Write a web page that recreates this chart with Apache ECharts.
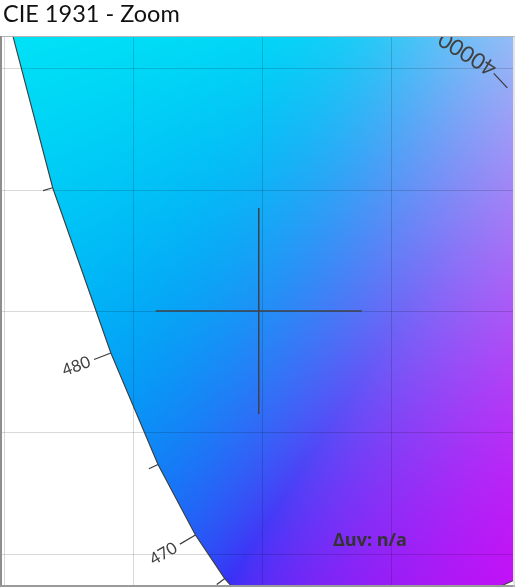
<!DOCTYPE html>
<html>
<head>
<meta charset="utf-8">
<script src="https://cdn.jsdelivr.net/npm/echarts@6/dist/echarts.min.js"></script>
<style>
html,body{margin:0;padding:0;background:#ffffff;}
#chart{width:515px;height:587px;}
</style>
</head>
<body>
<div id="chart"></div>
<script>
// ---- data ----
const chartTitle = 'CIE 1931 - Zoom';
const deltaText = 'Δuv: n/a';
// CIE 1931 2° spectral locus (wavelength nm, chromaticity x, y)
const wavelengths = [380,400,420,430,440,445,450,455,460,465,470,475,480,485,490,495,500,505,510,515,520,530,540,550,560,580,600,620,650,700];
const locusX = [0.17411,0.17334,0.17141,0.16888,0.16441,0.16110,0.15664,0.15099,0.14396,0.13550,0.12412,0.10959,0.09129,0.06871,0.04539,0.02346,0.00817,0.00386,0.01387,0.03885,0.07430,0.15472,0.22962,0.30160,0.37310,0.51249,0.62704,0.69148,0.72599,0.73469];
const locusY = [0.00496,0.00480,0.00510,0.00690,0.01086,0.01379,0.01771,0.02274,0.02970,0.03988,0.05780,0.08684,0.13270,0.20072,0.29498,0.41270,0.53842,0.65482,0.75019,0.81202,0.83380,0.80586,0.75433,0.69231,0.62445,0.48664,0.37249,0.30817,0.27401,0.26531];
// wavelengths that get a tick (labelled every 10 nm)
const tickWavelengths = [450,455,460,465,470,475,480,485,490,495];
const labelWavelengths = [450,460,470,480,490];
// grid lines (chromaticity units)
const gridXValues = [0.05,0.10,0.15,0.20];
const gridYValues = [0.05,0.10,0.15,0.20,0.25];
// zoom window
const xRange = [0.04903, 0.24740];
const yRange = [0.03724, 0.26276];
// target crosshair
const targetX = [0.1487];
const targetY = [0.1500];
// CCT annotation
const cctLabels = ['40000'];
const cctX = [0.2452];
const cctY = [0.2418];

// ---- layout ----
const G = {left:2, top:37, width:511, height:548};
const W = 515, H = 587;

// smooth chromaticity colour field used as the fill pattern
function chromaColor(x, y){
  if (y <= 0.0005) y = 0.0005;
  const X = x / y, Y = 1, Z = (1 - x - y) / y;
  let r = 3.2406*X - 1.5372*Y - 0.4986*Z;
  let g = -0.9689*X + 1.8758*Y + 0.0415*Z;
  let b = 0.0557*X - 0.2040*Y + 1.0570*Z;
  let mx = Math.max(r,g,b) || 1;
  r/=mx; g/=mx; b/=mx;
  const mn = Math.min(r,g,b);
  const k = 0.09;
  const s = k*Math.log(1 + Math.exp(-mn/k));
  r += s; g += s; b += s;
  mx = Math.max(r,g,b);
  r/=mx; g/=mx; b/=mx;
  g = Math.pow(Math.max(g,0), 1.1);
  const br = 0.92;
  const gm = v => { v = Math.max(0, v*br); return v <= 0.0031308 ? 12.92*v : 1.055*Math.pow(v,1/2.4) - 0.055; };
  return [Math.round(255*gm(r)), Math.round(255*gm(g)), Math.round(255*gm(b))];
}
const patCanvas = document.createElement('canvas');
patCanvas.width = W; patCanvas.height = H;
(function(){
  const ctx = patCanvas.getContext('2d');
  const img = ctx.createImageData(W, H);
  for (let py = 0; py < H; py++){
    const yv = yRange[1] - (py + 0.5 - G.top) / G.height * (yRange[1]-yRange[0]);
    for (let px = 0; px < W; px++){
      const xv = xRange[0] + (px + 0.5 - G.left) / G.width * (xRange[1]-xRange[0]);
      const c = chromaColor(xv, yv);
      const i = (py*W + px)*4;
      img.data[i]=c[0]; img.data[i+1]=c[1]; img.data[i+2]=c[2]; img.data[i+3]=255;
    }
  }
  ctx.putImageData(img, 0, 0);
})();

const chart = echarts.init(document.getElementById('chart'), null, {renderer:'canvas'});

function locusPixels(api){
  return wavelengths.map((w,i) => api.coord([locusX[i], locusY[i]]));
}
const LINE = '#3c3c3c';
const LABEL_FONT = 'Lato, "Open Sans", sans-serif';

const option = {
  animation: false,
  backgroundColor: '#ffffff',
  grid: {left:G.left, top:G.top, width:G.width, height:G.height, show:false},
  xAxis: {type:'value', min:xRange[0], max:xRange[1], show:false},
  yAxis: {type:'value', min:yRange[0], max:yRange[1], show:false},
  series: [
    { // gamut fill
      type:'custom', clip:true, z:1, silent:true,
      data:[0],
      renderItem: function(params, api){
        const pts = locusPixels(api);
        return {type:'polygon', shape:{points:pts}, style:{fill:{image:patCanvas, repeat:'no-repeat'}, stroke:null}};
      }
    },
    { // vertical grid lines
      type:'custom', clip:true, z:2, silent:true,
      data: gridXValues,
      renderItem: function(params, api){
        const v = api.value(0);
        const p = api.coord([v, yRange[0]]);
        const q = api.coord([v, yRange[1]]);
        const x = Math.round(p[0]) + 0.5;
        return {type:'line', shape:{x1:x, y1:p[1], x2:x, y2:q[1]}, style:{stroke:'rgba(0,0,0,0.15)', lineWidth:1}};
      }
    },
    { // horizontal grid lines
      type:'custom', clip:true, z:2, silent:true,
      data: gridYValues,
      renderItem: function(params, api){
        const v = api.value(0);
        const p = api.coord([xRange[0], v]);
        const q = api.coord([xRange[1], v]);
        const y = Math.round(p[1]) + 0.5;
        return {type:'line', shape:{x1:p[0], y1:y, x2:q[0], y2:y}, style:{stroke:'rgba(0,0,0,0.15)', lineWidth:1}};
      }
    },
    { // spectral locus outline
      type:'custom', clip:true, z:3, silent:true,
      data:[0],
      renderItem: function(params, api){
        const pts = locusPixels(api);
        return {type:'polygon', shape:{points:pts}, style:{fill:null, stroke:LINE, lineWidth:1.1}};
      }
    },
    { // wavelength ticks and labels
      type:'custom', clip:true, z:4, silent:true,
      data: tickWavelengths,
      renderItem: function(params, api){
        const w = api.value(0);
        const i = wavelengths.indexOf(w);
        const p = api.coord([locusX[i], locusY[i]]);
        const a = api.coord([locusX[i-1], locusY[i-1]]);
        const b = api.coord([locusX[i+1], locusY[i+1]]);
        let tx = b[0]-a[0], ty = b[1]-a[1];
        const tl = Math.hypot(tx,ty); tx/=tl; ty/=tl;
        const nx = ty, ny = -tx; // outward (left of locus)
        const major = labelWavelengths.indexOf(w) >= 0;
        const len = major ? 18 : 10;
        const ex = p[0] + nx*len, ey = p[1] + ny*len;
        const children = [{type:'line', shape:{x1:p[0], y1:p[1], x2:ex, y2:ey}, style:{stroke:LINE, lineWidth:1.2}}];
        if (major){
          const txt = String(w);
          const half = 15;
          const cx = ex + nx*(4+half), cy = ey + ny*(4+half);
          const rot = Math.atan2(ny, -nx);
          children.push({type:'text', x:cx, y:cy, rotation:rot,
            style:{text:txt, fill:'#404040', font:'16.5px ' + LABEL_FONT, align:'center', verticalAlign:'middle'}});
        }
        return {type:'group', children:children};
      }
    },
    { // CCT annotation
      type:'custom', clip:true, z:4, silent:true,
      data: cctLabels.map((l,i)=>[cctX[i], cctY[i]]),
      renderItem: function(params, api){
        const i = params.dataIndex;
        const p = api.coord([api.value(0), api.value(1)]);
        const dx = -0.68, dy = -0.73, L = 20;
        const ex = p[0] + dx*L, ey = p[1] + dy*L;
        const rx = -0.85, ry = -0.53;
        return {type:'group', children:[
          {type:'line', shape:{x1:p[0], y1:p[1], x2:ex, y2:ey}, style:{stroke:LINE, lineWidth:1.2}},
          {type:'text', x:ex + 1, y:ey - 3, rotation:Math.atan2(-ry, rx),
            style:{text:cctLabels[i], fill:'#404040', font:'22px ' + LABEL_FONT, align:'left', verticalAlign:'middle'}}
        ]};
      }
    },
    { // target crosshair
      type:'custom', clip:true, z:5, silent:true,
      data: targetX.map((x,i)=>[x, targetY[i]]),
      renderItem: function(params, api){
        const p = api.coord([api.value(0), api.value(1)]);
        const arm = 103;
        return {type:'group', children:[
          {type:'line', shape:{x1:p[0]-arm, y1:p[1], x2:p[0]+arm, y2:p[1]}, style:{stroke:'#3e4248', lineWidth:1.5}},
          {type:'line', shape:{x1:p[0], y1:p[1]-arm, x2:p[0], y2:p[1]+arm}, style:{stroke:'#3e4248', lineWidth:1.5}}
        ]};
      }
    }
  ],
  graphic: [
    {type:'text', left:3, top:2, z:10, style:{text:chartTitle, fill:'#111111', font:'23.5px Lato, "Open Sans", sans-serif'}},
    {type:'text', x:333, y:541, z:10, style:{text:deltaText, fill:'#333333', font:'bold 18px "Open Sans", Lato, sans-serif', align:'left', verticalAlign:'middle'}},
    {type:'line', z:10, shape:{x1:0, y1:36.5, x2:515, y2:36.5}, style:{stroke:'#b4b4b4', lineWidth:1}},
    {type:'line', z:10, shape:{x1:1, y1:36, x2:1, y2:587}, style:{stroke:'#8e8e8e', lineWidth:2}},
    {type:'line', z:10, shape:{x1:0, y1:586, x2:515, y2:586}, style:{stroke:'#9a9a9a', lineWidth:2}},
    {type:'line', z:10, shape:{x1:514, y1:36, x2:514, y2:587}, style:{stroke:'#c8c8c8', lineWidth:1}}
  ]
};
chart.setOption(option);
</script>
</body>
</html>
